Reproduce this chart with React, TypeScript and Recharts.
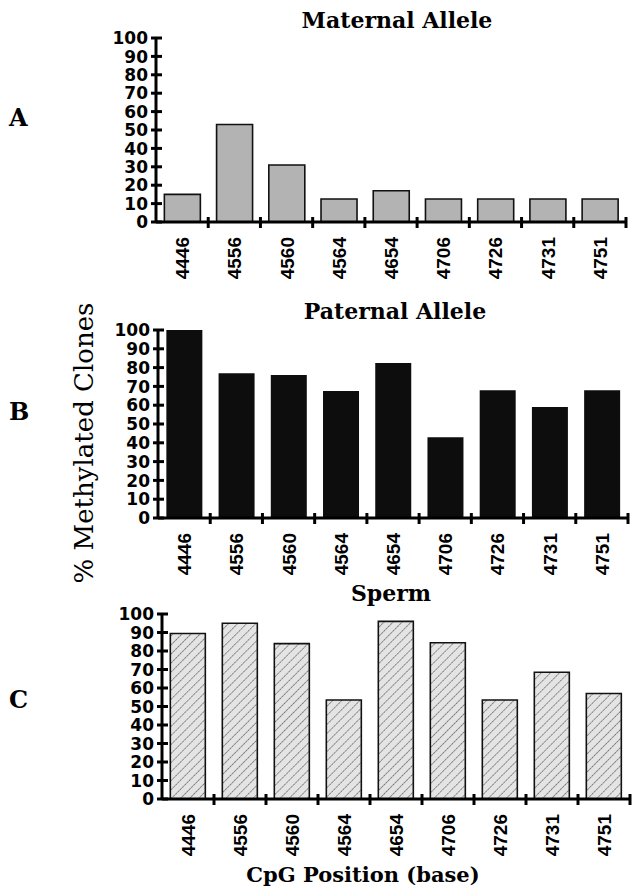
import { BarChart, Bar, XAxis, YAxis } from "recharts";

const positions = ["4446", "4556", "4560", "4564", "4654", "4706", "4726", "4731", "4751"];
const maternal = [15, 53, 31, 12.5, 17, 12.5, 12.5, 12.5, 12.5];
const paternal = [100, 77, 76, 67.5, 82.5, 43, 68, 59, 68];
const sperm = [89.5, 95, 84, 53.5, 96, 84.5, 53.5, 68.5, 57];
const yTicks = [0, 10, 20, 30, 40, 50, 60, 70, 80, 90, 100];

const toRows = (values: number[]) =>
  positions.map((pos, i) => ({ pos, value: values[i] }));

const YTick = ({ x, y, payload }: any) => (
  <g>
    <line x1={x - 5} x2={x + 6} y1={y} y2={y} stroke="#000" strokeWidth={3} />
    <text
      x={x - 8}
      y={y}
      dy="0.36em"
      textAnchor="end"
      fontFamily="DejaVu Sans"
      fontWeight="bold"
      fontSize={17}
      fill="#000"
    >
      {payload.value}
    </text>
  </g>
);

const makeXTick = (half: number) => ({ x, y, payload }: any) => (
  <g>
    <line x1={x + half} x2={x + half} y1={y - 5} y2={y + 6} stroke="#000" strokeWidth={3} />
    <text
      x={x + 7}
      y={y + 15}
      transform={`rotate(-90, ${x + 7}, ${y + 15})`}
      textAnchor="end"
      fontFamily="Liberation Sans, Arial, sans-serif"
      fontWeight="bold"
      fontSize={19}
      fill="#000"
    >
      {payload.value}
    </text>
  </g>
);

type PanelProps = {
  values: number[];
  top: number;
  height: number;
  margin: { top: number; right: number; bottom: number; left: number };
  fill: string;
  stroke?: string;
  hatch?: boolean;
};

function Panel({ values, top, height, margin, fill, stroke, hatch }: PanelProps) {
  const plotW = 632 - margin.left - margin.right - 50;
  const half = plotW / positions.length / 2;
  return (
    <div style={{ position: "absolute", left: 0, top }}>
      <BarChart
        width={632}
        height={height}
        data={toRows(values)}
        margin={margin}
        barCategoryGap="16%"
      >
        {hatch && (
          <defs>
            <pattern
              id="hatch"
              patternUnits="userSpaceOnUse"
              width={6.4}
              height={6.4}
              patternTransform="rotate(45)"
            >
              <rect width={6.4} height={6.4} fill="#e4e4e4" />
              <line
                x1={0}
                y1={0}
                x2={0}
                y2={6.4}
                stroke="#222"
                strokeWidth={1}
                strokeDasharray="2.2 0.8"
              />
            </pattern>
          </defs>
        )}
        <XAxis
          dataKey="pos"
          interval={0}
          tickLine={false}
          tickSize={0}
          tickMargin={0}
          height={60}
          axisLine={{ stroke: "#000", strokeWidth: 3 }}
          tick={makeXTick(half)}
        />
        <YAxis
          domain={[0, 100]}
          ticks={yTicks}
          interval={0}
          width={50}
          tickLine={false}
          tickSize={0}
          tickMargin={0}
          allowDataOverflow
          axisLine={{ stroke: "#000", strokeWidth: 3 }}
          tick={YTick}
        />
        <Bar
          dataKey="value"
          fill={hatch ? "url(#hatch)" : fill}
          stroke={stroke}
          strokeWidth={stroke ? 1.6 : 0}
          isAnimationActive={false}
        />
      </BarChart>
    </div>
  );
}

const serif = "DejaVu Serif";

export default function App() {
  return (
    <div style={{ position: "absolute", left: 0, top: 0, width: 632, height: 896, background: "#fff" }}>
      <Panel
        values={maternal}
        top={0}
        height={290}
        margin={{ top: 38, right: 6, bottom: 8, left: 106 }}
        fill="#b3b3b3"
        stroke="#111"
      />
      <Panel
        values={paternal}
        top={290}
        height={290}
        margin={{ top: 40, right: 4, bottom: 2, left: 108 }}
        fill="#0d0d0d"
      />
      <Panel
        values={sperm}
        top={580}
        height={300}
        margin={{ top: 34, right: 2, bottom: 21, left: 112 }}
        fill="#e4e4e4"
        stroke="#111"
        hatch
      />
      <svg
        width={632}
        height={896}
        style={{ position: "absolute", left: 0, top: 0, pointerEvents: "none" }}
      >
        <g fontFamily={serif} fill="#000">
          <text x={397} y={28} textAnchor="middle" fontWeight="bold" fontSize={22}>
            Maternal Allele
          </text>
          <text x={395} y={319} textAnchor="middle" fontWeight="bold" fontSize={22}>
            Paternal Allele
          </text>
          <text x={391} y={601} textAnchor="middle" fontWeight="bold" fontSize={22}>
            Sperm
          </text>
          <text x={363} y={882} textAnchor="middle" fontWeight="bold" fontSize={21}>
            CpG Position (base)
          </text>
          <text x={9} y={126} fontWeight="bold" fontSize={24}>A</text>
          <text x={9} y={420} fontWeight="bold" fontSize={24}>B</text>
          <text x={9} y={708} fontWeight="bold" fontSize={24}>C</text>
          <text
            x={93}
            y={443}
            transform="rotate(-90, 93, 443)"
            textAnchor="middle"
            fontSize={26}
          >
            % Methylated Clones
          </text>
        </g>
      </svg>
    </div>
  );
}
